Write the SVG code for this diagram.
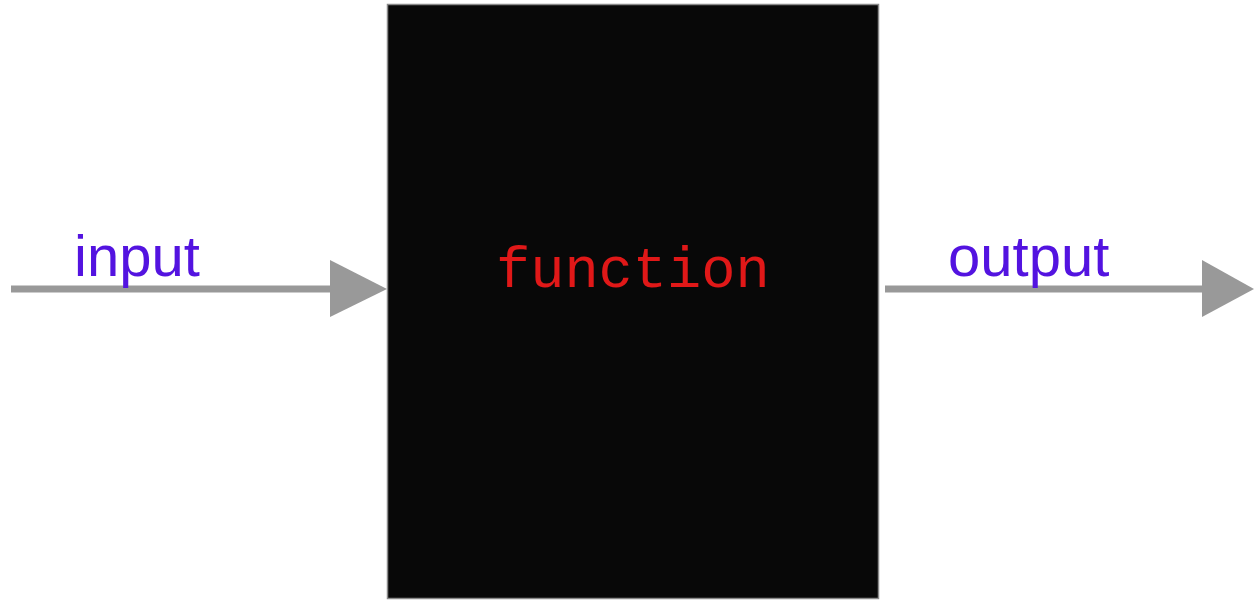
<svg xmlns="http://www.w3.org/2000/svg" width="1255" height="600" viewBox="0 0 1255 600">
<style>
.lbl{font-family:"Liberation Sans",Arial,sans-serif;font-size:58px;fill:#5313e0}
.fn{font-family:"Liberation Mono","Courier New",monospace;font-size:57px;fill:#e01818}
.line{stroke:#999999;stroke-width:7;fill:none}
.head{fill:#999999}
</style>
<rect width="1255" height="600" fill="#ffffff"/>
<g id="function">
<rect x="387.5" y="4.5" width="491" height="594" fill="#080808" stroke="#8a8a8a" stroke-width="1.5"/>
<text class="fn" x="496" y="287">function</text>
</g>
<g id="connectors">
<g id="input-arrow">
<line class="line" x1="11" y1="289" x2="334" y2="289"/>
<polygon class="head" points="330,260 387,289 330,317"/>
<text class="lbl" x="74" y="276">input</text>
</g>
<g id="output-arrow">
<line class="line" x1="885" y1="289" x2="1206" y2="289"/>
<polygon class="head" points="1202,260 1254,289 1202,317"/>
<text class="lbl" x="948" y="276">output</text>
</g>
</g>
</svg>
